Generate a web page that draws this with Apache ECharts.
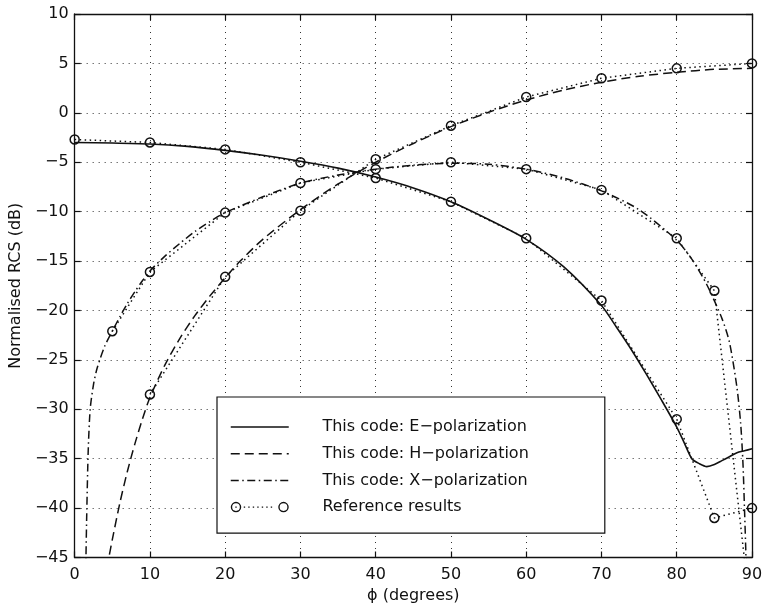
<!DOCTYPE html>
<html>
<head>
<meta charset="utf-8">
<script src="https://cdn.jsdelivr.net/npm/echarts@6/dist/echarts.min.js"></script>
<style>
html,body{margin:0;padding:0;background:#fff;}
#chart{width:766px;height:613px;}
</style>
</head>
<body>
<div id="chart"></div>
<script>
// ---- data ----
const xTicks = [0, 10, 20, 30, 40, 50, 60, 70, 80, 90];
const yTicks = [-45, -40, -35, -30, -25, -20, -15, -10, -5, 0, 5, 10];

// This code: E-polarization (solid)
const eCodeX = [0, 5, 10, 15, 20, 25, 30, 35, 40, 45, 50, 55, 60, 65, 70, 72, 74, 76, 78, 80, 81, 82, 83, 84, 85, 86, 87, 88, 89, 90];
const eCodeY = [-3.0, -3.05, -3.15, -3.4, -3.8, -4.3, -4.9, -5.6, -6.5, -7.6, -9.0, -10.8, -12.8, -15.6, -19.5, -21.7, -24.0, -26.5, -29.1, -31.8, -33.4, -35.0, -35.5, -35.8, -35.6, -35.2, -34.8, -34.4, -34.2, -34.0];

// This code: H-polarization (dashed)
const hCodeX = [4, 4.5, 5, 6, 7, 8, 9, 10, 12, 14, 16, 18, 20, 22, 25, 30, 35, 40, 45, 50, 55, 60, 65, 70, 75, 80, 85, 90];
const hCodeY = [-47.5, -45.2, -43.2, -39.5, -36.3, -33.5, -31.0, -28.8, -25.5, -22.8, -20.5, -18.5, -16.7, -15.0, -12.8, -9.8, -7.2, -5.0, -3.1, -1.4, 0.05, 1.3, 2.3, 3.1, 3.7, 4.1, 4.4, 4.5];

// This code: X-polarization (dash-dot)
const xCodeX = [1.45, 1.5, 1.62, 1.8, 2.06, 2.5, 3, 4, 5, 6, 7, 8, 9, 10, 12, 14, 16, 18, 20, 25, 30, 35, 40, 45, 50, 55, 60, 65, 70, 75, 80, 82, 84, 86, 87, 88, 88.5, 88.8, 89, 89.2, 89.4];
const xCodeY = [-48, -45, -40, -34.2, -30, -27.5, -25.8, -23.6, -22.1, -20.65, -19.3, -18.1, -17.0, -16.0, -14.5, -13.2, -12.0, -11.0, -10.1, -8.5, -7.1, -6.3, -5.7, -5.3, -5.1, -5.2, -5.7, -6.6, -7.9, -9.8, -12.9, -14.8, -17.4, -20.8, -23.2, -27.8, -31.5, -35.5, -40, -45, -52];

// Reference results (circles, dotted)
const eRefX = [0, 10, 20, 30, 40, 50, 60, 70, 80, 85, 90];
const eRefY = [-2.7, -3.0, -3.7, -5.0, -6.6, -9.0, -12.7, -19.0, -31.0, -41.0, -40.0];
const hRefX = [10, 20, 30, 40, 50, 60, 70, 80, 90];
const hRefY = [-28.5, -16.6, -9.9, -4.7, -1.3, 1.6, 3.5, 4.5, 5.0];
const xRefX = [5, 10, 20, 30, 40, 50, 60, 70, 80, 85, 90];
const xRefY = [-22.1, -16.1, -10.1, -7.1, -5.7, -5.0, -5.7, -7.8, -12.7, -18.0, -52];

const names = ['This code: E\u2212polarization', 'This code: H\u2212polarization', 'This code: X\u2212polarization', 'Reference results'];
const xName = '\u03d5 (degrees)';
const yName = 'Normalised RCS (dB)';

// ---- build ----
const zip = (xs, ys) => xs.map((x, i) => [x, ys[i]]);
const FONT = 'DejaVu Sans';
const INK = '#111';

function ring(cx, cy, R, r) {
  return `M${cx - R},${cy} A${R},${R} 0 1 0 ${cx + R},${cy} A${R},${R} 0 1 0 ${cx - R},${cy} Z ` +
         `M${cx - r},${cy} A${r},${r} 0 1 1 ${cx + r},${cy} A${r},${r} 0 1 1 ${cx - r},${cy} Z `;
}
let refIconPath = ring(5.25, 5.25, 5.25, 3.85) + ring(52.75, 5.25, 5.25, 3.85);
for (let x = 13; x <= 44; x += 4.5) {
  refIconPath += `M${x},4.55 h1.4 v1.4 h-1.4 Z `;
}
refIconPath += 'M4.55,4.55 h1.4 v1.4 h-1.4 Z';

const minusFmt = v => String(v).replace('-', '\u2212');

const baseAxisLine = { show: true, onZero: false, lineStyle: { color: INK, width: 1.3 } };
const baseTick = { show: true, inside: true, length: 6, lineStyle: { color: INK, width: 1.2 } };

const option = {
  animation: false,
  backgroundColor: '#fff',
  grid: { left: 68, right: 14, top: 14, bottom: 55.5, containLabel: false },
  xAxis: [
    {
      type: 'value', min: xTicks[0], max: xTicks[xTicks.length - 1], interval: 10,
      position: 'bottom',
      axisLine: baseAxisLine, axisTick: baseTick,
      axisLabel: { color: INK, fontFamily: FONT, fontSize: 16, margin: 9.5, formatter: minusFmt },
      splitLine: { show: true, lineStyle: { color: '#333', width: 1, type: [1, 5] } },
      name: xName, nameLocation: 'middle', nameGap: 28,
      nameTextStyle: { color: INK, fontFamily: FONT, fontSize: 16 }
    },
    {
      type: 'value', min: xTicks[0], max: xTicks[xTicks.length - 1], interval: 10,
      position: 'top',
      axisLine: baseAxisLine, axisTick: baseTick,
      axisLabel: { show: false }, splitLine: { show: false }
    }
  ],
  yAxis: [
    {
      type: 'value', min: yTicks[0], max: yTicks[yTicks.length - 1], interval: 5,
      position: 'left',
      axisLine: baseAxisLine, axisTick: baseTick,
      axisLabel: { color: INK, fontFamily: FONT, fontSize: 16, margin: 6, formatter: minusFmt },
      splitLine: { show: true, lineStyle: { color: '#333', width: 1, type: [1, 5] } },
      name: yName, nameLocation: 'middle', nameGap: 31, nameRotate: 90,
      nameTextStyle: { color: INK, fontFamily: FONT, fontSize: 16 }
    },
    {
      type: 'value', min: yTicks[0], max: yTicks[yTicks.length - 1], interval: 5,
      position: 'right',
      axisLine: baseAxisLine, axisTick: baseTick,
      axisLabel: { show: false }, splitLine: { show: false }
    }
  ],
  legend: {
    left: 217, top: 397, orient: 'vertical',
    backgroundColor: '#fff', borderColor: INK, borderWidth: 1.2, borderRadius: 0,
    padding: [22, 76, 18, 13],
    itemWidth: 58, itemHeight: 16, itemGap: 10.7,
    selectedMode: false,
    textStyle: { color: INK, fontFamily: FONT, fontSize: 16, lineHeight: 16, padding: [0, 0, 0, 28.7] },
    itemStyle: { opacity: 0 },
    lineStyle: { width: 1.5 },
    data: [
      { name: names[0] },
      { name: names[1] },
      { name: names[2] },
      { name: names[3], icon: 'path://' + refIconPath, itemStyle: { opacity: 1, color: INK, borderWidth: 0 } }
    ]
  },
  series: [
    {
      type: 'line', name: names[0], data: zip(eCodeX, eCodeY),
      symbol: 'none', smooth: 0.25, clip: true, z: 2,
      lineStyle: { color: INK, width: 1.6, type: 'solid' }, itemStyle: { color: INK }
    },
    {
      type: 'line', name: names[1], data: zip(hCodeX, hCodeY),
      symbol: 'none', smooth: 0.25, clip: true, z: 2,
      lineStyle: { color: INK, width: 1.5, type: [9, 5] }, itemStyle: { color: INK }
    },
    {
      type: 'line', name: names[2], data: zip(xCodeX, xCodeY),
      symbol: 'none', smooth: 0.25, clip: true, z: 2,
      lineStyle: { color: INK, width: 1.5, type: [8, 3.5, 1.5, 3.5] }, itemStyle: { color: INK }
    },
    ...[[eRefX, eRefY], [hRefX, hRefY], [xRefX, xRefY]].map(([xs, ys]) => ({
      type: 'line', name: names[3], data: zip(xs, ys),
      symbol: 'circle', symbolSize: 9, showSymbol: true, clip: true, z: 3,
      lineStyle: { color: INK, width: 1.5, type: [1.5, 3.5] },
      itemStyle: { color: 'rgba(0,0,0,0)', borderColor: INK, borderWidth: 1.5 }
    }))
  ]
};

const chart = echarts.init(document.getElementById('chart'), null, { renderer: 'canvas' });
chart.setOption(option);
</script>
</body>
</html>
